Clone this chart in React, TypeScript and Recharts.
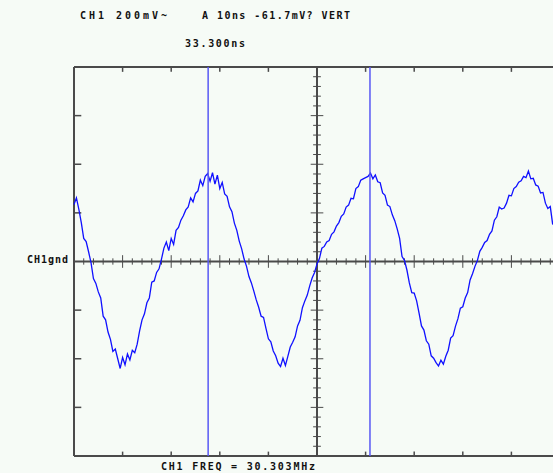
import { LineChart, Line, XAxis, YAxis, ReferenceLine } from "recharts";

// scope settings: 10 ns/div, 200 mV/div, 10 x 8 divisions
const SAMPLE_NS = 0.5;
const X_DOMAIN: [number, number] = [0, 100];
const Y_DOMAIN: [number, number] = [-800, 800];
const CURSORS_NS = [27.6, 60.9];

// CH1 trace in mV, one sample every 0.5 ns
const traceMv = [
  234, 262, 214, 160, 95, 82, 40, -5, -70, -90,
  -125, -150, -225, -240, -290, -320, -370, -360, -400, -440,
  -395, -425, -380, -405, -365, -375, -340, -285, -240, -215,
  -170, -150, -85, -80, -45, -30, 10, 55, 80, 45,
  95, 70, 128, 140, 170, 188, 212, 224, 262, 245,
  280, 290, 335, 312, 350, 362, 330, 365, 318, 355,
  300, 325, 278, 268, 225, 205, 158, 128, 84, 52,
  10, -20, -62, -88, -122, -158, -188, -225, -230, -275,
  -318, -330, -368, -388, -418, -432, -398, -428, -390, -352,
  -332, -310, -265, -242, -190, -162, -138, -100, -68, -45,
  -10, 12, 55, 62, 80, 86, 112, 122, 146, 160,
  186, 196, 224, 232, 260, 258, 300, 308, 334, 340,
  345, 350, 364, 340, 356, 328, 324, 282, 272, 232,
  226, 192, 168, 134, 95, 20, 5, -35, -88, -128,
  -130, -162, -212, -265, -282, -326, -340, -388, -398, -416,
  -430, -406, -422, -390, -365, -315, -305, -266, -235, -192,
  -186, -150, -128, -76, -50, -20, 4, 42, 58, 78,
  86, 112, 126, 170, 184, 224, 216, 220, 240, 272,
  270, 300, 308, 326, 332, 350, 345, 372, 340, 342,
  315, 310, 282, 284, 240, 218, 226, 152,
];

const data = traceMv.map((v, i) => ({ t: i * SAMPLE_NS, v }));

const BG = "#f6fbf6";
const GRID = "#4a4a4a";
const TRACE = "#1010ff";
const CURSOR = "#5858f4";
const FONT = "'DejaVu Sans Mono', monospace";

// graticule tick positions
const xMinor: number[] = [];
for (let t = 2; t < 100; t += 2) xMinor.push(t);
const yMinor: number[] = [];
for (let v = -760; v < 800; v += 40) yMinor.push(v);

function tickLines() {
  const out: any[] = [];
  xMinor.forEach((t) => {
    const major = t % 10 === 0;
    const h = major ? 26 : 13;
    out.push(
      <ReferenceLine key={"cx" + t} segment={[{ x: t, y: -h }, { x: t, y: h }]} stroke={GRID} strokeWidth={1} />
    );
    if (major) {
      out.push(
        <ReferenceLine key={"tx" + t} segment={[{ x: t, y: 800 }, { x: t, y: 780 }]} stroke={GRID} strokeWidth={1.5} />,
        <ReferenceLine key={"bx" + t} segment={[{ x: t, y: -800 }, { x: t, y: -782 }]} stroke={GRID} strokeWidth={1.5} />
      );
    }
  });
  yMinor.forEach((v) => {
    if (v === 0) return;
    const major = v % 200 === 0;
    const w = major ? 1.3 : 0.8;
    out.push(
      <ReferenceLine key={"cy" + v} segment={[{ x: 50 - w, y: v }, { x: 50 + w, y: v }]} stroke={GRID} strokeWidth={1} />
    );
    if (major) {
      out.push(
        <ReferenceLine key={"ly" + v} segment={[{ x: 0, y: v }, { x: 1.5, y: v }]} stroke={GRID} strokeWidth={1.5} />
      );
    }
  });
  return out;
}

export default function App() {
  return (
    <div
      style={{
        position: "fixed",
        left: 0,
        top: 0,
        width: 553,
        height: 473,
        overflow: "hidden",
        background: BG,
      }}
    >
      <LineChart
        width={600}
        height={473}
        data={data}
        margin={{ top: 67, right: 40, bottom: 17, left: 74 }}
      >
        <XAxis type="number" dataKey="t" domain={X_DOMAIN} hide />
        <YAxis type="number" domain={Y_DOMAIN} hide />
        {/* border */}
        <ReferenceLine x={0} stroke={GRID} strokeWidth={2} />
        <ReferenceLine x={100} stroke={GRID} strokeWidth={2} />
        <ReferenceLine y={800} stroke={GRID} strokeWidth={2} />
        <ReferenceLine y={-800} stroke={GRID} strokeWidth={2} />
        {/* center cross */}
        <ReferenceLine x={50} stroke={GRID} strokeWidth={2} />
        <ReferenceLine y={0} stroke={GRID} strokeWidth={2} />
        {tickLines()}
        <Line
          type="linear"
          dataKey="v"
          stroke={TRACE}
          strokeWidth={1.3}
          dot={false}
          isAnimationActive={false}
        />
        {CURSORS_NS.map((c) => (
          <ReferenceLine key={c} x={c} stroke={CURSOR} strokeWidth={1.5} />
        ))}
      </LineChart>
      <svg
        width={553}
        height={473}
        style={{ position: "absolute", left: 0, top: 0, pointerEvents: "none" }}
      >
        <g fontFamily={FONT} fontWeight="bold" fontSize={10} fill="#111">
          <text x={80} y={19} textLength={87} lengthAdjust="spacing">CH1 200mV~</text>
          <text x={202} y={19} textLength={148} lengthAdjust="spacing">A  10ns -61.7mV? VERT</text>
          <text x={185} y={47} textLength={60} lengthAdjust="spacing">33.300ns</text>
          <text x={27} y={263} textLength={41} lengthAdjust="spacing">CH1gnd</text>
          <text x={161} y={470} textLength={154} lengthAdjust="spacing">CH1  FREQ  = 30.303MHz</text>
        </g>
      </svg>
    </div>
  );
}
